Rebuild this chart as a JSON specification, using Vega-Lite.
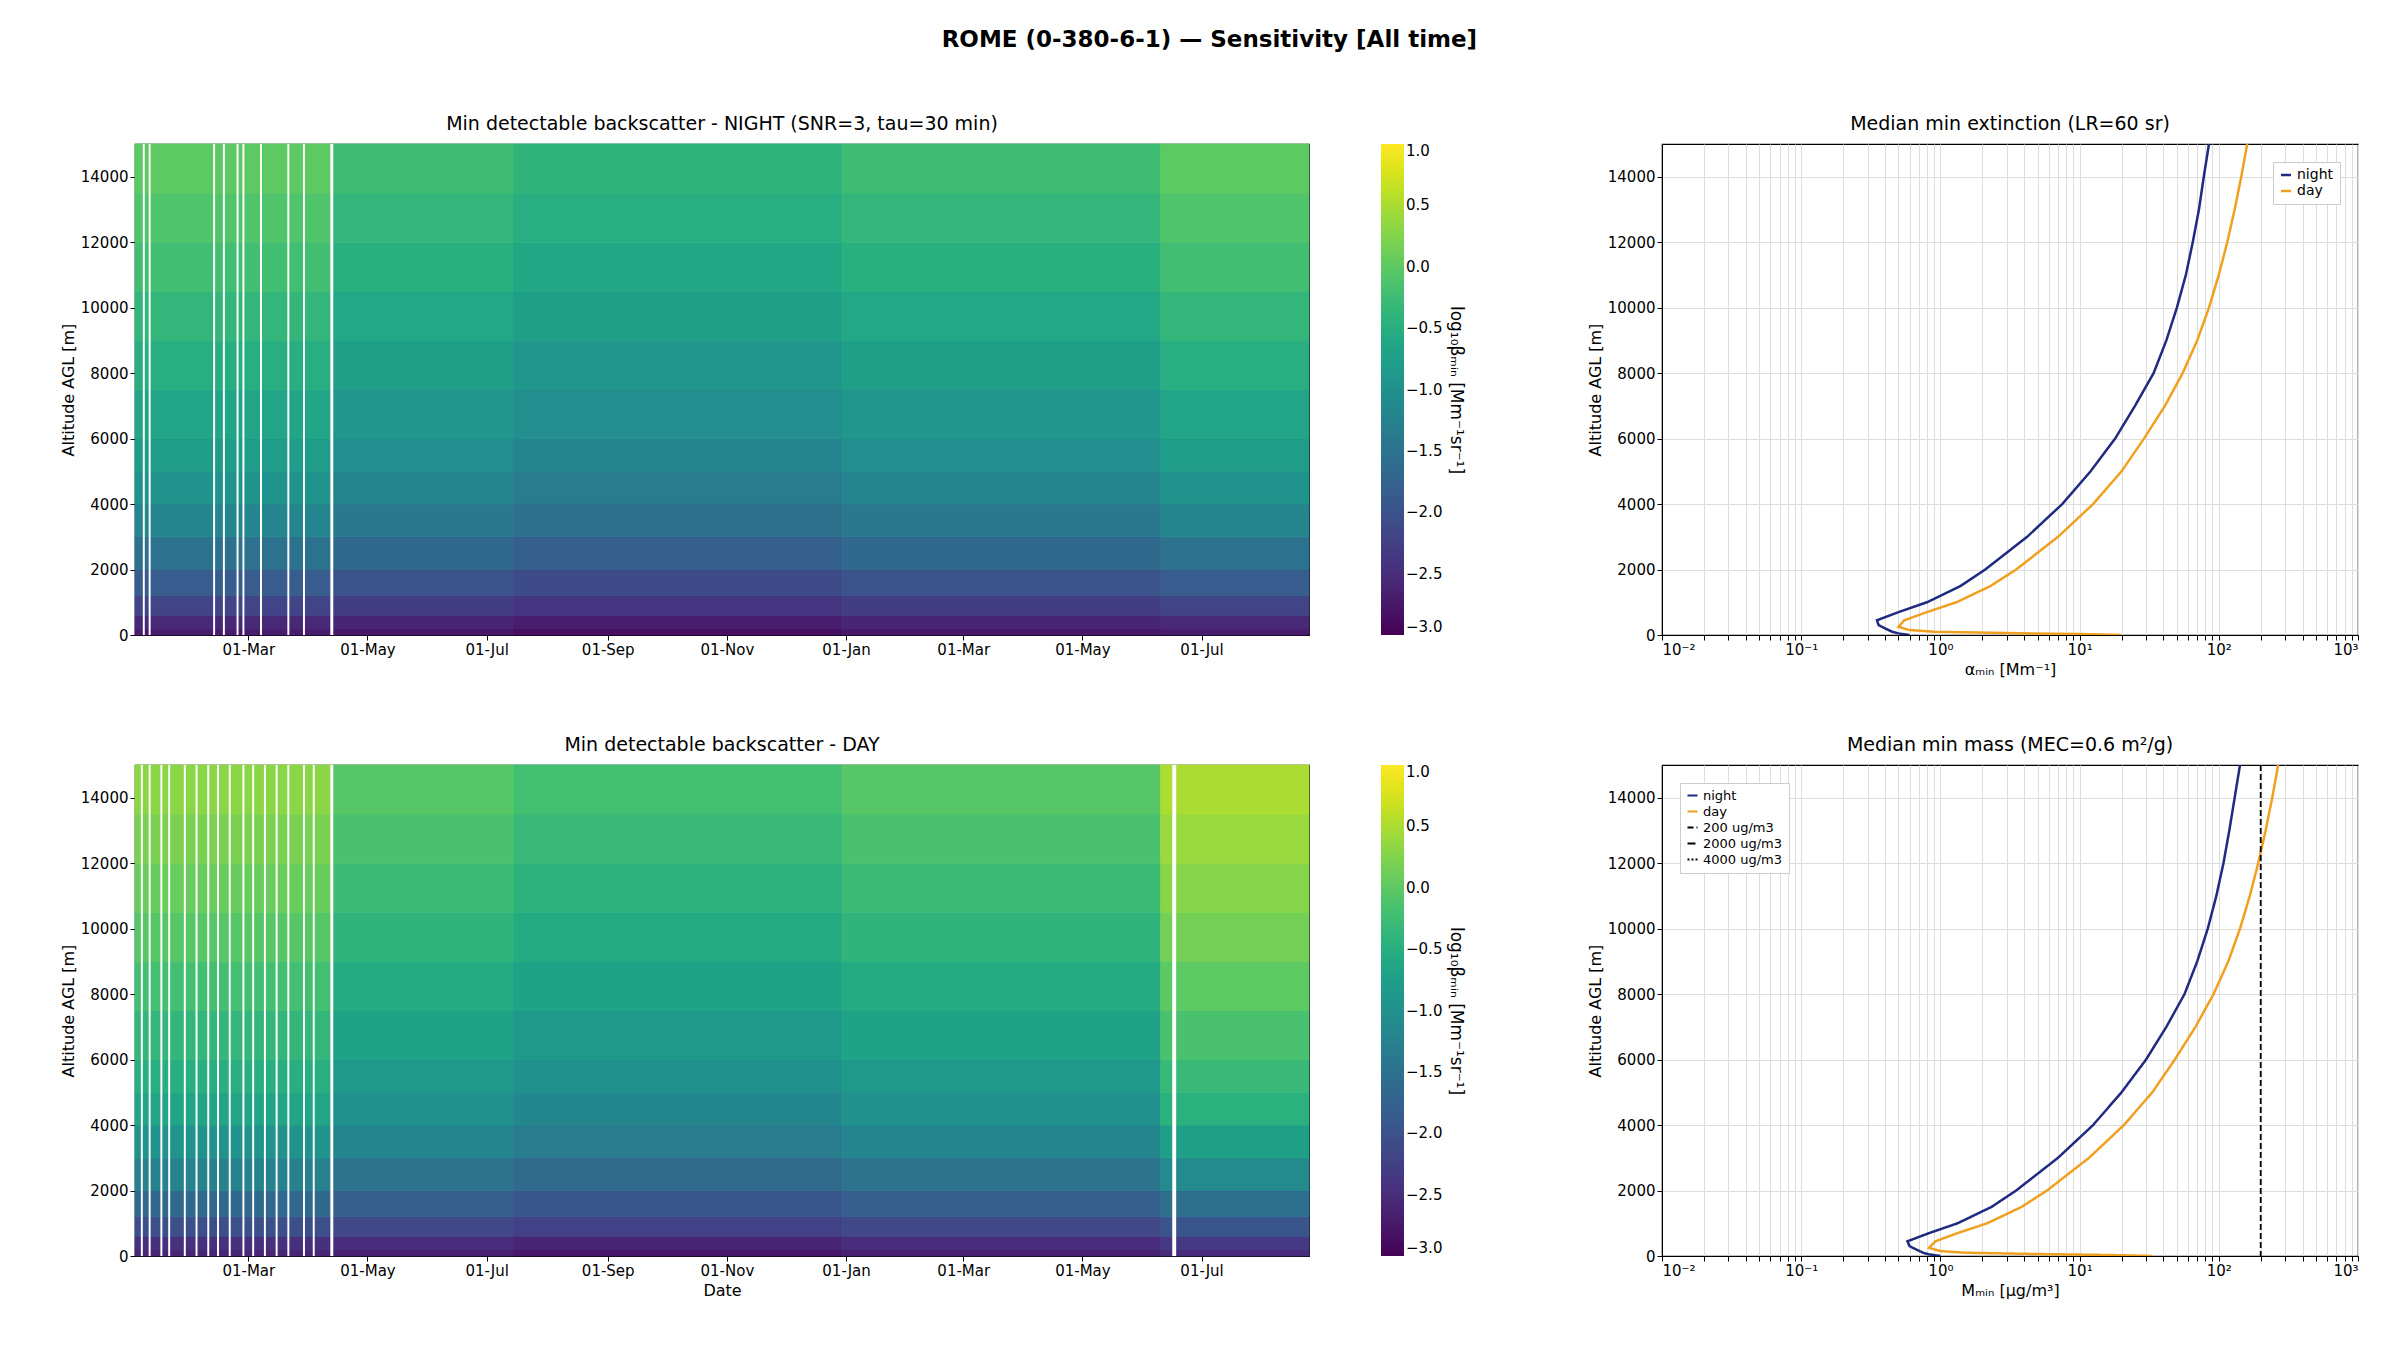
{
  "$schema": "https://vega.github.io/schema/vega-lite/v6.json",
  "title": {"text": "ROME (0-380-6-1) — Sensitivity [All time]", "fontSize": 23, "fontWeight": "bold", "anchor": "middle", "offset": 62},
  "padding": {"left": 59, "top": 29, "right": 20, "bottom": 10},
  "config": {
    "font": "DejaVu Sans",
    "view": {"stroke": "black", "strokeWidth": 1.2},
    "axis": {"labelFontSize": 15, "titleFontSize": 16, "titleFontWeight": "normal", "labelColor": "black", "titleColor": "black", "domainColor": "black", "tickColor": "black", "grid": false, "labelFont": "DejaVu Sans", "titleFont": "DejaVu Sans"},
    "title": {"fontSize": 19, "fontWeight": "normal", "font": "DejaVu Sans", "offset": 10},
    "legend": {"labelFontSize": 15, "labelFont": "DejaVu Sans", "titleFont": "DejaVu Sans"}
  },
  "datasets": {
    "bands": [
      {"a0": 0, "a1": 200, "nA": -2.7, "nB": -2.75, "nC": -2.85, "nD": -2.75, "nE": -2.7, "dA": -2.6, "dB": -2.65, "dC": -2.75, "dD": -2.65, "dE": -2.5},
      {"a0": 200, "a1": 600, "nA": -2.55, "nB": -2.6, "nC": -2.7, "nD": -2.6, "nE": -2.55, "dA": -2.45, "dB": -2.5, "dC": -2.6, "dD": -2.5, "dE": -2.35},
      {"a0": 600, "a1": 1200, "nA": -2.2, "nB": -2.3, "nC": -2.4, "nD": -2.3, "nE": -2.2, "dA": -2.05, "dB": -2.15, "dC": -2.25, "dD": -2.15, "dE": -1.95},
      {"a0": 1200, "a1": 2000, "nA": -1.85, "nB": -1.98, "nC": -2.1, "nD": -1.98, "nE": -1.85, "dA": -1.65, "dB": -1.82, "dC": -1.95, "dD": -1.82, "dE": -1.55},
      {"a0": 2000, "a1": 3000, "nA": -1.5, "nB": -1.65, "nC": -1.8, "nD": -1.65, "nE": -1.5, "dA": -1.25, "dB": -1.48, "dC": -1.62, "dD": -1.48, "dE": -1.1},
      {"a0": 3000, "a1": 4000, "nA": -1.2, "nB": -1.4, "nC": -1.55, "nD": -1.4, "nE": -1.2, "dA": -0.95, "dB": -1.2, "dC": -1.35, "dD": -1.2, "dE": -0.75},
      {"a0": 4000, "a1": 5000, "nA": -0.95, "nB": -1.2, "nC": -1.35, "nD": -1.2, "nE": -0.95, "dA": -0.65, "dB": -1.0, "dC": -1.15, "dD": -1.0, "dE": -0.45},
      {"a0": 5000, "a1": 6000, "nA": -0.8, "nB": -1.05, "nC": -1.2, "nD": -1.05, "nE": -0.8, "dA": -0.5, "dB": -0.85, "dC": -1.0, "dD": -0.85, "dE": -0.3},
      {"a0": 6000, "a1": 7500, "nA": -0.65, "nB": -0.9, "nC": -1.05, "nD": -0.9, "nE": -0.65, "dA": -0.35, "dB": -0.7, "dC": -0.85, "dD": -0.7, "dE": -0.15},
      {"a0": 7500, "a1": 9000, "nA": -0.5, "nB": -0.75, "nC": -0.9, "nD": -0.75, "nE": -0.5, "dA": -0.2, "dB": -0.55, "dC": -0.7, "dD": -0.55, "dE": 0.0},
      {"a0": 9000, "a1": 10500, "nA": -0.35, "nB": -0.6, "nC": -0.75, "nD": -0.6, "nE": -0.35, "dA": -0.05, "dB": -0.4, "dC": -0.55, "dD": -0.4, "dE": 0.15},
      {"a0": 10500, "a1": 12000, "nA": -0.22, "nB": -0.47, "nC": -0.62, "nD": -0.47, "nE": -0.22, "dA": 0.08, "dB": -0.27, "dC": -0.42, "dD": -0.27, "dE": 0.28},
      {"a0": 12000, "a1": 13500, "nA": -0.1, "nB": -0.35, "nC": -0.5, "nD": -0.35, "nE": -0.1, "dA": 0.2, "dB": -0.15, "dC": -0.3, "dD": -0.15, "dE": 0.4},
      {"a0": 13500, "a1": 15000, "nA": 0.0, "nB": -0.25, "nC": -0.4, "nD": -0.25, "nE": 0.0, "dA": 0.3, "dB": -0.05, "dC": -0.2, "dD": -0.05, "dE": 0.5}
    ],
    "periods": [
      {"p": "nA", "s0": "2023-01-02T00:00:00", "s1": "2023-04-13T00:00:00"},
      {"p": "nB", "s0": "2023-04-13T00:00:00", "s1": "2023-07-15T00:00:00"},
      {"p": "nC", "s0": "2023-07-15T00:00:00", "s1": "2023-12-30T00:00:00"},
      {"p": "nD", "s0": "2023-12-30T00:00:00", "s1": "2024-06-10T00:00:00"},
      {"p": "nE", "s0": "2024-06-10T00:00:00", "s1": "2024-08-25T00:00:00"},
      {"p": "dA", "s0": "2023-01-02T00:00:00", "s1": "2023-04-13T00:00:00"},
      {"p": "dB", "s0": "2023-04-13T00:00:00", "s1": "2023-07-15T00:00:00"},
      {"p": "dC", "s0": "2023-07-15T00:00:00", "s1": "2023-12-30T00:00:00"},
      {"p": "dD", "s0": "2023-12-30T00:00:00", "s1": "2024-06-10T00:00:00"},
      {"p": "dE", "s0": "2024-06-10T00:00:00", "s1": "2024-08-25T00:00:00"}
    ],
    "gaps": [
      {"panel": "night", "t0": "2023-01-06T00:00:00", "t1": "2023-01-07T00:00:00"},
      {"panel": "night", "t0": "2023-01-09T00:00:00", "t1": "2023-01-10T00:00:00"},
      {"panel": "night", "t0": "2023-02-11T00:00:00", "t1": "2023-02-12T00:00:00"},
      {"panel": "night", "t0": "2023-02-16T00:00:00", "t1": "2023-02-17T00:00:00"},
      {"panel": "night", "t0": "2023-02-23T00:00:00", "t1": "2023-02-24T00:00:00"},
      {"panel": "night", "t0": "2023-02-26T00:00:00", "t1": "2023-02-27T00:00:00"},
      {"panel": "night", "t0": "2023-03-07T00:00:00", "t1": "2023-03-08T00:00:00"},
      {"panel": "night", "t0": "2023-03-21T00:00:00", "t1": "2023-03-22T00:00:00"},
      {"panel": "night", "t0": "2023-03-29T00:00:00", "t1": "2023-03-30T00:00:00"},
      {"panel": "night", "t0": "2023-04-12T00:00:00", "t1": "2023-04-13T12:00:00"},
      {"panel": "day", "t0": "2023-01-05T00:00:00", "t1": "2023-01-06T00:00:00"},
      {"panel": "day", "t0": "2023-01-09T00:00:00", "t1": "2023-01-10T00:00:00"},
      {"panel": "day", "t0": "2023-01-15T00:00:00", "t1": "2023-01-16T00:00:00"},
      {"panel": "day", "t0": "2023-01-19T00:00:00", "t1": "2023-01-20T00:00:00"},
      {"panel": "day", "t0": "2023-01-27T00:00:00", "t1": "2023-01-28T00:00:00"},
      {"panel": "day", "t0": "2023-02-02T00:00:00", "t1": "2023-02-03T00:00:00"},
      {"panel": "day", "t0": "2023-02-08T00:00:00", "t1": "2023-02-09T00:00:00"},
      {"panel": "day", "t0": "2023-02-13T00:00:00", "t1": "2023-02-14T00:00:00"},
      {"panel": "day", "t0": "2023-02-19T00:00:00", "t1": "2023-02-20T00:00:00"},
      {"panel": "day", "t0": "2023-02-26T00:00:00", "t1": "2023-02-27T00:00:00"},
      {"panel": "day", "t0": "2023-03-03T00:00:00", "t1": "2023-03-04T00:00:00"},
      {"panel": "day", "t0": "2023-03-09T00:00:00", "t1": "2023-03-10T00:00:00"},
      {"panel": "day", "t0": "2023-03-15T00:00:00", "t1": "2023-03-16T00:00:00"},
      {"panel": "day", "t0": "2023-03-21T00:00:00", "t1": "2023-03-22T00:00:00"},
      {"panel": "day", "t0": "2023-03-29T00:00:00", "t1": "2023-03-30T00:00:00"},
      {"panel": "day", "t0": "2023-04-03T00:00:00", "t1": "2023-04-04T00:00:00"},
      {"panel": "day", "t0": "2023-04-12T00:00:00", "t1": "2023-04-13T12:00:00"},
      {"panel": "day", "t0": "2024-06-16T00:00:00", "t1": "2024-06-18T00:00:00"}
    ],
    "prof": [
      {"s": "night", "alt": 0, "ext": 0.6, "mass": 1.0},
      {"s": "night", "alt": 50, "ext": 0.5, "mass": 0.83},
      {"s": "night", "alt": 100, "ext": 0.45, "mass": 0.75},
      {"s": "night", "alt": 200, "ext": 0.4, "mass": 0.67},
      {"s": "night", "alt": 300, "ext": 0.36, "mass": 0.6},
      {"s": "night", "alt": 450, "ext": 0.35, "mass": 0.58},
      {"s": "night", "alt": 700, "ext": 0.5, "mass": 0.83},
      {"s": "night", "alt": 1000, "ext": 0.8, "mass": 1.33},
      {"s": "night", "alt": 1500, "ext": 1.4, "mass": 2.33},
      {"s": "night", "alt": 2000, "ext": 2.1, "mass": 3.5},
      {"s": "night", "alt": 3000, "ext": 4.2, "mass": 7.0},
      {"s": "night", "alt": 4000, "ext": 7.5, "mass": 12.5},
      {"s": "night", "alt": 5000, "ext": 12, "mass": 20},
      {"s": "night", "alt": 6000, "ext": 18, "mass": 30},
      {"s": "night", "alt": 7000, "ext": 25, "mass": 42},
      {"s": "night", "alt": 8000, "ext": 34, "mass": 56.7},
      {"s": "night", "alt": 9000, "ext": 42, "mass": 70},
      {"s": "night", "alt": 10000, "ext": 50, "mass": 83.3},
      {"s": "night", "alt": 11000, "ext": 58, "mass": 96},
      {"s": "night", "alt": 12000, "ext": 65, "mass": 108},
      {"s": "night", "alt": 13000, "ext": 72, "mass": 119},
      {"s": "night", "alt": 14000, "ext": 78, "mass": 130},
      {"s": "night", "alt": 15000, "ext": 85, "mass": 142},
      {"s": "day", "alt": 0, "ext": 20, "mass": 33.3},
      {"s": "day", "alt": 30, "ext": 10, "mass": 16.7},
      {"s": "day", "alt": 60, "ext": 3, "mass": 5},
      {"s": "day", "alt": 100, "ext": 0.9, "mass": 1.5},
      {"s": "day", "alt": 150, "ext": 0.6, "mass": 1.0},
      {"s": "day", "alt": 250, "ext": 0.5, "mass": 0.83},
      {"s": "day", "alt": 450, "ext": 0.55, "mass": 0.92},
      {"s": "day", "alt": 700, "ext": 0.8, "mass": 1.33},
      {"s": "day", "alt": 1000, "ext": 1.3, "mass": 2.17},
      {"s": "day", "alt": 1500, "ext": 2.3, "mass": 3.83},
      {"s": "day", "alt": 2000, "ext": 3.5, "mass": 5.83},
      {"s": "day", "alt": 3000, "ext": 7, "mass": 11.7},
      {"s": "day", "alt": 4000, "ext": 12.5, "mass": 20.8},
      {"s": "day", "alt": 5000, "ext": 20, "mass": 33.3},
      {"s": "day", "alt": 6000, "ext": 29, "mass": 48.3},
      {"s": "day", "alt": 7000, "ext": 41, "mass": 68},
      {"s": "day", "alt": 8000, "ext": 55, "mass": 91.7},
      {"s": "day", "alt": 9000, "ext": 70, "mass": 117},
      {"s": "day", "alt": 10000, "ext": 85, "mass": 142},
      {"s": "day", "alt": 11000, "ext": 100, "mass": 167},
      {"s": "day", "alt": 12000, "ext": 115, "mass": 192},
      {"s": "day", "alt": 13000, "ext": 130, "mass": 217},
      {"s": "day", "alt": 14000, "ext": 145, "mass": 242},
      {"s": "day", "alt": 15000, "ext": 160, "mass": 267}
    ],
    "refs": [
      {"s": "200 ug/m3", "x": 200},
      {"s": "2000 ug/m3", "x": 2000},
      {"s": "4000 ug/m3", "x": 4000}
    ]
  },
  "resolve": {"scale": {"color": "independent", "strokeDash": "independent"}, "legend": {"color": "independent"}},
  "spacing": 57,
  "vconcat": [
    {
      "resolve": {"scale": {"color": "independent", "strokeDash": "independent"}},
      "spacing": 120,
      "hconcat": [
        {
          "width": 1174,
          "height": 491,
          "title": "Min detectable backscatter - NIGHT (SNR=3, tau=30 min)",
          "layer": [
            {
              "data": {"name": "bands"},
              "transform": [
                {"fold": ["nA", "nB", "nC", "nD", "nE"], "as": ["p", "v"]},
                {"lookup": "p", "from": {"data": {"name": "periods"}, "key": "p", "fields": ["s0", "s1"]}},
                {"calculate": "toDate(datum.s0)", "as": "t0"},
                {"calculate": "toDate(datum.s1)", "as": "t1"}
              ],
              "mark": {"type": "rect", "strokeWidth": 0.8},
              "encoding": {
                "x": {"field": "t0", "type": "temporal", "scale": {"domain": [{"year": 2023, "month": 1, "date": 2}, {"year": 2024, "month": 8, "date": 25}]},
                  "axis": {"title": null, "format": "%d-%b", "values": [{"year": 2023, "month": 3, "date": 1}, {"year": 2023, "month": 5, "date": 1}, {"year": 2023, "month": 7, "date": 1}, {"year": 2023, "month": 9, "date": 1}, {"year": 2023, "month": 11, "date": 1}, {"year": 2024, "month": 1, "date": 1}, {"year": 2024, "month": 3, "date": 1}, {"year": 2024, "month": 5, "date": 1}, {"year": 2024, "month": 7, "date": 1}]}},
                "x2": {"field": "t1"},
                "y": {"field": "a0", "type": "quantitative", "scale": {"domain": [0, 15000], "nice": false}, "axis": {"title": "Altitude AGL [m]", "format": "d", "values": [0, 2000, 4000, 6000, 8000, 10000, 12000, 14000]}},
                "y2": {"field": "a1"},
                "color": {"field": "v", "type": "quantitative", "scale": {"scheme": "viridis", "domain": [-3, 1]},
                  "legend": {"title": "log₁₀βₘᵢₙ [Mm⁻¹sr⁻¹]", "titleOrient": "right", "titleAngle": 270, "titleFontSize": 17, "titleFontWeight": "normal", "gradientLength": 491, "gradientThickness": 23, "values": [-3, -2.5, -2, -1.5, -1, -0.5, 0, 0.5, 1], "format": ".1f", "offset": 72}},
                "stroke": {"field": "v", "type": "quantitative", "scale": {"scheme": "viridis", "domain": [-3, 1]}, "legend": null}
              }
            },
            {
              "data": {"name": "gaps"},
              "transform": [{"filter": "datum.panel == 'night'"}],
              "mark": {"type": "rect", "color": "white"},
              "encoding": {"x": {"field": "t0", "type": "temporal"}, "x2": {"field": "t1"}, "y": {"datum": 0}, "y2": {"datum": 15000}}
            }
          ]
        },
        {
          "width": 696,
          "height": 491,
          "title": "Median min extinction (LR=60 sr)",
          "data": {"name": "prof"},
          "mark": {"type": "line", "strokeWidth": 2.5, "clip": true},
          "encoding": {
            "x": {"field": "ext", "type": "quantitative", "scale": {"type": "log", "domain": [0.01, 1000]},
              "axis": {"title": "αₘᵢₙ [Mm⁻¹]", "grid": true, "gridColor": "#ddd", "values": [0.01,0.02,0.03,0.04,0.05,0.06,0.07,0.08,0.09,0.1,0.2,0.3,0.4,0.5,0.6,0.7,0.8,0.9,1,2,3,4,5,6,7,8,9,10,20,30,40,50,60,70,80,90,100,200,300,400,500,600,700,800,900,1000],
                "labelExpr": "datum.value==0.01?'10⁻²':datum.value==0.1?'10⁻¹':datum.value==1?'10⁰':datum.value==10?'10¹':datum.value==100?'10²':datum.value==1000?'10³':''"}},
            "y": {"field": "alt", "type": "quantitative", "scale": {"domain": [0, 15000], "nice": false}, "axis": {"title": "Altitude AGL [m]", "format": "d", "grid": true, "gridColor": "#ddd", "values": [0, 2000, 4000, 6000, 8000, 10000, 12000, 14000]}},
            "order": {"field": "alt"},
            "color": {"field": "s", "type": "nominal", "scale": {"domain": ["night", "day"], "range": ["#1f2a80", "#f0a020"]},
              "legend": {"title": null, "orient": "top-right", "symbolType": "stroke", "symbolStrokeWidth": 2.5, "fillColor": "white", "strokeColor": "#ccc", "padding": 6, "labelFontSize": 14}}
          }
        }
      ]
    },
    {
      "resolve": {"scale": {"color": "independent", "strokeDash": "independent"}},
      "spacing": 120,
      "hconcat": [
        {
          "width": 1174,
          "height": 491,
          "title": "Min detectable backscatter - DAY",
          "layer": [
            {
              "data": {"name": "bands"},
              "transform": [
                {"fold": ["dA", "dB", "dC", "dD", "dE"], "as": ["p", "v"]},
                {"lookup": "p", "from": {"data": {"name": "periods"}, "key": "p", "fields": ["s0", "s1"]}},
                {"calculate": "toDate(datum.s0)", "as": "t0"},
                {"calculate": "toDate(datum.s1)", "as": "t1"}
              ],
              "mark": {"type": "rect", "strokeWidth": 0.8},
              "encoding": {
                "x": {"field": "t0", "type": "temporal", "scale": {"domain": [{"year": 2023, "month": 1, "date": 2}, {"year": 2024, "month": 8, "date": 25}]},
                  "axis": {"title": "Date", "format": "%d-%b", "values": [{"year": 2023, "month": 3, "date": 1}, {"year": 2023, "month": 5, "date": 1}, {"year": 2023, "month": 7, "date": 1}, {"year": 2023, "month": 9, "date": 1}, {"year": 2023, "month": 11, "date": 1}, {"year": 2024, "month": 1, "date": 1}, {"year": 2024, "month": 3, "date": 1}, {"year": 2024, "month": 5, "date": 1}, {"year": 2024, "month": 7, "date": 1}]}},
                "x2": {"field": "t1"},
                "y": {"field": "a0", "type": "quantitative", "scale": {"domain": [0, 15000], "nice": false}, "axis": {"title": "Altitude AGL [m]", "format": "d", "values": [0, 2000, 4000, 6000, 8000, 10000, 12000, 14000]}},
                "y2": {"field": "a1"},
                "color": {"field": "v", "type": "quantitative", "scale": {"scheme": "viridis", "domain": [-3, 1]},
                  "legend": {"title": "log₁₀βₘᵢₙ [Mm⁻¹sr⁻¹]", "titleOrient": "right", "titleAngle": 270, "titleFontSize": 17, "titleFontWeight": "normal", "gradientLength": 491, "gradientThickness": 23, "values": [-3, -2.5, -2, -1.5, -1, -0.5, 0, 0.5, 1], "format": ".1f", "offset": 72}},
                "stroke": {"field": "v", "type": "quantitative", "scale": {"scheme": "viridis", "domain": [-3, 1]}, "legend": null}
              }
            },
            {
              "data": {"name": "gaps"},
              "transform": [{"filter": "datum.panel == 'day'"}],
              "mark": {"type": "rect", "color": "white"},
              "encoding": {"x": {"field": "t0", "type": "temporal"}, "x2": {"field": "t1"}, "y": {"datum": 0}, "y2": {"datum": 15000}}
            }
          ]
        },
        {
          "width": 696,
          "height": 491,
          "title": "Median min mass (MEC=0.6 m²/g)",
          "layer": [
            {
              "data": {"name": "prof"},
              "mark": {"type": "line", "strokeWidth": 2.5, "clip": true},
              "encoding": {
                "x": {"field": "mass", "type": "quantitative", "scale": {"type": "log", "domain": [0.01, 1000]},
                  "axis": {"title": "Mₘᵢₙ [μg/m³]", "grid": true, "gridColor": "#ddd", "values": [0.01,0.02,0.03,0.04,0.05,0.06,0.07,0.08,0.09,0.1,0.2,0.3,0.4,0.5,0.6,0.7,0.8,0.9,1,2,3,4,5,6,7,8,9,10,20,30,40,50,60,70,80,90,100,200,300,400,500,600,700,800,900,1000],
                    "labelExpr": "datum.value==0.01?'10⁻²':datum.value==0.1?'10⁻¹':datum.value==1?'10⁰':datum.value==10?'10¹':datum.value==100?'10²':datum.value==1000?'10³':''"}},
                "y": {"field": "alt", "type": "quantitative", "scale": {"domain": [0, 15000], "nice": false}, "axis": {"title": "Altitude AGL [m]", "format": "d", "grid": true, "gridColor": "#ddd", "values": [0, 2000, 4000, 6000, 8000, 10000, 12000, 14000]}},
                "order": {"field": "alt"},
                "color": {"field": "s", "type": "nominal", "scale": {"domain": ["night", "day", "200 ug/m3", "2000 ug/m3", "4000 ug/m3"], "range": ["#1f2a80", "#f0a020", "black", "black", "black"]},
                  "legend": {"title": null, "orient": "top-left", "symbolType": "stroke", "symbolStrokeWidth": 2, "fillColor": "white", "strokeColor": "#ccc", "padding": 6, "labelFontSize": 13}},
                "strokeDash": {"field": "s", "type": "nominal", "scale": {"domain": ["night", "day", "200 ug/m3", "2000 ug/m3", "4000 ug/m3"], "range": [[1, 0], [1, 0], [6, 3], [8, 3, 2, 3], [2, 2]]}, "legend": {"title": null, "orient": "top-left"}}
              }
            },
            {
              "data": {"name": "refs"},
              "mark": {"type": "rule", "strokeWidth": 1.8, "clip": true},
              "encoding": {
                "x": {"field": "x", "type": "quantitative"},
                "color": {"field": "s", "type": "nominal"},
                "strokeDash": {"field": "s", "type": "nominal"}
              }
            }
          ]
        }
      ]
    }
  ]
}
